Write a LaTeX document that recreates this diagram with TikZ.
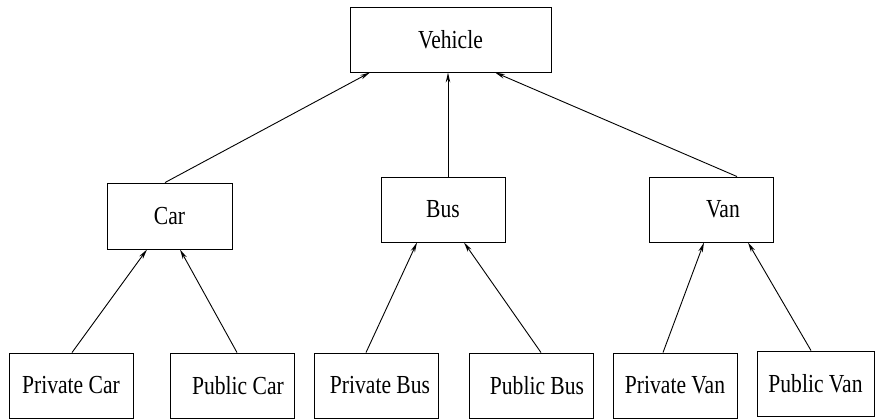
\documentclass[tikz,border=0pt]{standalone}
\usepackage{fontspec}
\setmainfont{Liberation Serif}[FakeStretch=0.83]
\usepackage{tikz}
\usetikzlibrary{arrows.meta,positioning}

\begin{document}
\begin{tikzpicture}[x=1pt, y=-1pt, >={Stealth[open,length=10pt,width=4.5pt]},
  line width=0.9pt,
  cls/.style={draw, align=center, minimum width=124pt, minimum height=65pt,
    inner sep=0pt, font=\fontsize{26}{30}\selectfont}]
\useasboundingbox (0,0) rectangle (875,419);

\node[cls, minimum width=201pt] (vehicle) at (450.5,39.5) {Vehicle};

\node[cls, minimum width=125pt, minimum height=66pt] (car) at (169.5,216) {Car};
\node[cls] (bus) at (443,209.5) {Bus};
\node[cls] (van) at (711,209.5) {\hspace{24pt}Van};

\node[cls] (pcar) at (71,385.5) {Private Car};
\node[cls] (pubcar) at (232,385.5) {\hspace{12pt}Public Car};
\node[cls] (pbus) at (376,385.5) {\hspace{8pt}Private Bus};
\node[cls] (pubbus) at (531,385.5) {\hspace{12pt}Public Bus};
\node[cls] (pvan) at (675,385.5) {Private Van};
\node[cls, minimum width=117pt] (pubvan) at (815.5,383.5) {Public Van};

% inheritance arrows
\draw[->] ([xshift=-4.5pt]car.north) -- ([xshift=-80.5pt]vehicle.south);
\draw[->] ([xshift=5pt]bus.north) -- ([xshift=-2.5pt]vehicle.south);
\draw[->] ([xshift=26pt]van.north) -- ([xshift=44.5pt]vehicle.south);

\foreach \sub/\ds/\sup/\dp in {pcar/1/car/-22.5, pubcar/5/car/10.5,
    pbus/-10/bus/-26, pubbus/10/bus/21, pvan/-12/van/-7, pubvan/-4.5/van/37}
  \draw[->] ([xshift=\ds pt]\sub.north) -- ([xshift=\dp pt]\sup.south);
\end{tikzpicture}
\end{document}
